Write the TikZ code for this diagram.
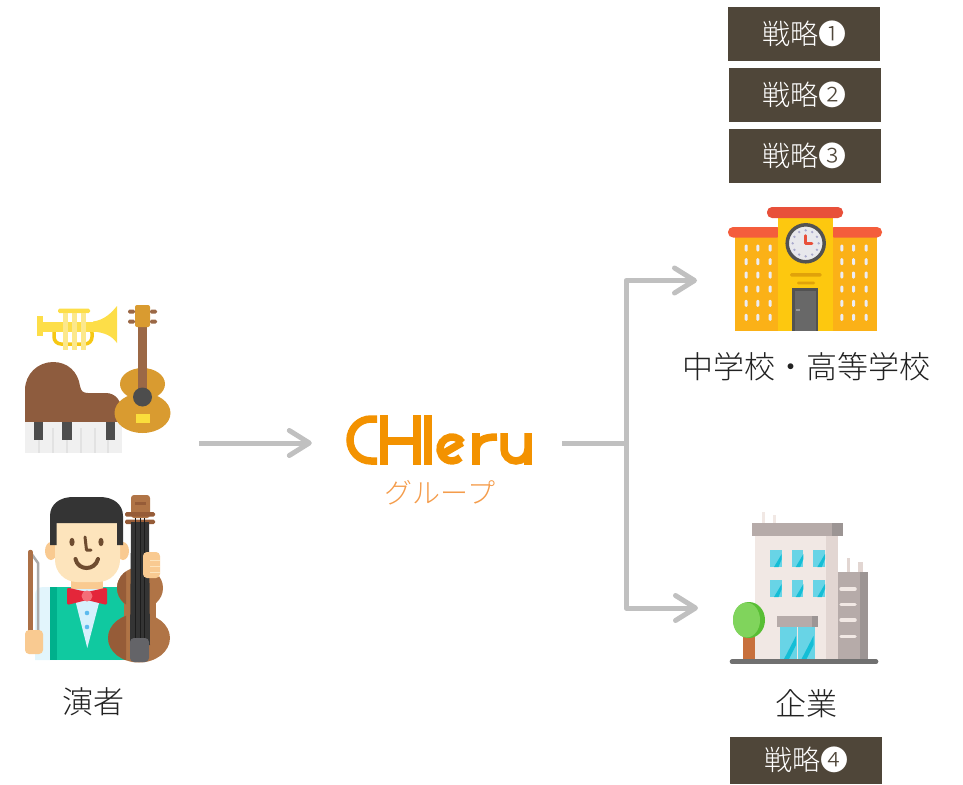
\documentclass[tikz,border=0pt]{standalone}
\usepackage{fontspec}
\setmainfont{Noto Sans CJK JP}[UprightFont = * Light]
\usetikzlibrary{arrows.meta}

% palette
\definecolor{boxbrown}{RGB}{79,70,57}
\definecolor{arrowgray}{RGB}{192,192,192}
\definecolor{logoorange}{RGB}{243,146,0}
\definecolor{kanaorange}{RGB}{244,156,75}
\definecolor{labelink}{RGB}{34,34,34}
% instruments
\definecolor{trumpet}{RGB}{253,222,72}
\definecolor{trumpetdark}{RGB}{246,200,20}
\definecolor{valve}{RGB}{252,232,140}
\definecolor{pianobrown}{RGB}{142,92,62}
\definecolor{keywhite}{RGB}{240,240,240}
\definecolor{keyline}{RGB}{226,226,226}
\definecolor{keyblack}{RGB}{77,77,77}
\definecolor{guitarorange}{RGB}{217,155,48}
\definecolor{guitarneck}{RGB}{155,104,70}
\definecolor{bridgeyellow}{RGB}{250,222,60}
% performer
\definecolor{shirt}{RGB}{226,245,252}
\definecolor{shirtv}{RGB}{214,240,252}
\definecolor{vest}{RGB}{16,201,160}
\definecolor{vestdark}{RGB}{0,176,140}
\definecolor{skin}{RGB}{253,228,188}
\definecolor{skindark}{RGB}{249,202,145}
\definecolor{hair}{RGB}{52,52,52}
\definecolor{featurebrown}{RGB}{110,76,48}
\definecolor{tiered}{RGB}{228,38,58}
\definecolor{tiepink}{RGB}{244,110,120}
\definecolor{button}{RGB}{92,186,238}
\definecolor{bowstick}{RGB}{172,112,70}
\definecolor{bowhair}{RGB}{170,170,170}
\definecolor{violinbrown}{RGB}{176,116,70}
\definecolor{violindark}{RGB}{150,92,56}
\definecolor{fingerboard}{RGB}{52,52,52}
\definecolor{stringcol}{RGB}{28,28,28}
\definecolor{tailgray}{RGB}{100,100,104}
% school
\definecolor{wingyellow}{RGB}{251,177,23}
\definecolor{toweryellow}{RGB}{253,200,15}
\definecolor{roofred}{RGB}{244,93,60}
\definecolor{towerroof}{RGB}{232,80,58}
\definecolor{windowwhite}{RGB}{236,236,242}
\definecolor{barorange}{RGB}{224,162,10}
\definecolor{doorframe}{RGB}{82,82,82}
\definecolor{doorfill}{RGB}{104,104,104}
\definecolor{clockface}{RGB}{232,232,236}
\definecolor{clockdot}{RGB}{170,170,205}
% office
\definecolor{wall}{RGB}{241,232,228}
\definecolor{wallshade}{RGB}{226,214,210}
\definecolor{capgray}{RGB}{182,171,169}
\definecolor{capdark}{RGB}{156,149,148}
\definecolor{glass}{RGB}{104,212,230}
\definecolor{glassdark}{RGB}{20,190,214}
\definecolor{leaf}{RGB}{128,212,92}
\definecolor{leafdark}{RGB}{88,190,52}
\definecolor{trunk}{RGB}{200,112,60}
\definecolor{groundgray}{RGB}{112,112,112}

\begin{document}
\begin{tikzpicture}[x=1pt,y=-1pt,
  stratbox/.style={fill=boxbrown, text=white, inner sep=0pt,
    minimum width=152pt, minimum height=54pt,
    font=\fontsize{28}{28}\selectfont},
  caption/.style={text=labelink, inner sep=0pt, font=\fontsize{31}{31}\selectfont},
  conn/.style={draw=arrowgray, line width=5pt, line join=round},
  tip/.style={-{Straight Barb[length=20pt,width=25pt,round]}},
  logostroke/.style={draw=logoorange, line width=7.5pt},
]
\useasboundingbox (0,0) rectangle (963,784);

% ---------- strategy tags ----------
\node[stratbox] (s1) at (804,34) {戦略❶};
\node[stratbox] (s2) at (804.5,95) {戦略❷};
\node[stratbox] (s3) at (804.5,156) {戦略❸};
\node[stratbox, minimum height=47pt] (s4) at (806,760) {戦略❹};

% ---------- instruments ----------
% grand piano
\fill[pianobrown] (25,422) -- (25,390) .. controls (25,374) and (38,362) .. (53,362)
  .. controls (68,362) and (78,372) .. (80,386) .. controls (81,391) and (83,393) .. (88,393)
  -- (106,393) .. controls (116,393) and (122,402) .. (122,412) -- (122,422) -- cycle;
\fill[keywhite] (25,422) rectangle (122,453);
\foreach \k in {39,53,67,81,95,108} \fill[keyline] (\k-1,428) rectangle (\k+1,453);
\fill[keyblack] (34,422) rectangle (43,440);
\fill[keyblack] (62,422) rectangle (72,440);
\fill[keyblack] (106,422) rectangle (115,440);
% guitar
\fill[guitarorange] (142.5,384) ellipse (22.5 and 16);
\fill[guitarorange] (142.5,413) ellipse (28 and 20);
\fill[guitarneck] (138,318) rectangle (147,398);
\fill[guitarorange, rounded corners=2pt] (135,305) rectangle (150,327);
\foreach \py in {309.5,319.5} {
  \fill[guitarneck, rounded corners=1.5pt] (128,\py) rectangle (135,\py+4);
  \fill[guitarneck, rounded corners=1.5pt] (150,\py) rectangle (157,\py+4);
}
\fill[keyblack] (142.5,397) circle (9.5);
\fill[bridgeyellow] (136,414) rectangle (150,423);
% trumpet
\draw[trumpetdark, line width=3.5pt, rounded corners=7pt] (54,326) rectangle (92,344);
\fill[trumpet] (36.5,316) rectangle (43,336);
\fill[trumpet] (43,321.5) rectangle (96,331.5);
\fill[trumpet] (93,321.5) .. controls (105,320) and (112,312) .. (117,306) -- (117,343)
  .. controls (112,336) and (105,332.5) .. (93,331.5) -- cycle;
\fill[trumpet, rounded corners=1.5pt] (58,308.5) rectangle (90,313);
\fill[valve] (62.5,313) rectangle (67.5,350);
\fill[valve] (72,313) rectangle (77,350);
\fill[valve] (80.5,313) rectangle (85.5,350);

% ---------- performer ----------
\fill[shirt] (35,660) -- (35,595) .. controls (35,590) and (38,587) .. (43,587) -- (125,587) -- (125,660) -- cycle;
\fill[vest] (50,587) rectangle (125,660);
\fill[vestdark] (50,587) rectangle (56.5,660);
\fill[shirtv] (71.7,586.5) -- (103.3,586.5) -- (87.3,648) -- cycle;
\fill[skindark] (71,568) rectangle (103,589);
\fill[skindark] (51,551) ellipse (6 and 9);
\fill[skindark] (123,551) ellipse (6 and 9);
\fill[skin, rounded corners=22pt] (55,510) rectangle (120,582);
\fill[hair] (50,545) -- (50,516) .. controls (50,504) and (60,497) .. (73,497) -- (100,497)
  .. controls (113,497) and (123,504) .. (123,516) -- (123,545) -- (117,545) -- (117,523)
  -- (56.5,523) -- (56.5,545) -- cycle;
\fill[featurebrown] (72,542) ellipse (2.6 and 4.2);
\fill[featurebrown] (101,542) ellipse (2.6 and 4.2);
\draw[featurebrown, line width=3pt, line cap=round, line join=round] (85,537) -- (86.5,550) -- (91,550);
\draw[featurebrown, line width=4pt, line cap=round] (75.5,559) .. controls (78,571) and (95,571) .. (98,559);
\fill[tiered, rounded corners=1.5pt] (67,587.5) -- (87,592) -- (87,600) -- (67,605) -- cycle;
\fill[tiered, rounded corners=1.5pt] (107,587.5) -- (87,592) -- (87,600) -- (107,605) -- cycle;
\fill[tiepink] (87,596) circle (5.5);
\fill[button] (87,613) circle (2.3);
\fill[button] (87,627) circle (2.3);
% bow and left hand
\draw[bowhair, line width=2.5pt] (31,553) -- (38,563) -- (38,636);
\draw[bowstick, line width=4.5pt, line cap=round] (30.5,552) -- (30.5,638);
\fill[skindark, rounded corners=4pt] (25,630) rectangle (43,654);
% violin
\fill[violinbrown] (140,588) ellipse (23 and 21);
\fill[violinbrown] (139,638) ellipse (31 and 24.5);
\fill[violinbrown] (124,598) rectangle (156,622);
\begin{scope}
  \clip (100,560) rectangle (126,665);
  \fill[violindark] (139,638) ellipse (31 and 24.5);
  \fill[violindark] (140,588) ellipse (23 and 21);
\end{scope}
\fill[violinbrown, rounded corners=3pt] (131,495) rectangle (150,518);
\fill[violindark] (135,502) rectangle (146,505);
\fill[violindark, rounded corners=1.5pt] (125,512) rectangle (155,516.5);
\fill[violindark, rounded corners=1.5pt] (125,519.5) rectangle (155,524);
\fill[fingerboard] (131,522) -- (149,522) -- (150,645) -- (130,645) -- cycle;
\foreach \s in {135.5,140,144.5} \draw[stringcol, line width=1pt] (\s,518) -- (\s,642);
\fill[tailgray, rounded corners=4pt] (130,638) rectangle (149,662);
\fill[skindark, rounded corners=4pt] (143,552) rectangle (160,578);
\draw[skin, line width=1pt] (150,560) -- (160,560) (150,566) -- (160,566) (150,572) -- (160,572);

\node[caption] (performerLbl) at (93,702) {演者};

% ---------- logo ----------
\draw[logostroke] (377,419) -- (371,419) arc[start angle=270, end angle=90, radius=21] -- (377,461);
\draw[logostroke] (384,415) -- (384,465) (417,415) -- (417,465) (384,441) -- (417,441);
\draw[logostroke] (428,415) -- (428,465);
\draw[logostroke] (462.2,442.6) arc[start angle=-32, end angle=-315, radius=12];
\draw[logostroke] (462.2,442.6) -- (441.4,454.6);
\draw[logostroke] (476,433) -- (476,465);
\draw[logostroke] (476,452) .. controls (476,441) and (483,437) .. (497,437);
\draw[logostroke] (504,433) -- (504,449) arc[start angle=180, end angle=0, radius=12] -- (528,433);
\draw[logostroke] (528,449) -- (528,465);
\node[text=kanaorange, inner sep=0pt, font=\fontsize{28}{28}\selectfont] (group) at (440,493) {グループ};
\node[minimum width=250pt, minimum height=60pt, inner sep=0pt] (logo) at (437,443) {};

% ---------- school ----------
\fill[wingyellow] (735,236) rectangle (778,331);
\fill[wingyellow] (833,236) rectangle (877,331);
\fill[roofred, rounded corners=5pt] (728,227) rectangle (782,237.5);
\fill[roofred, rounded corners=5pt] (829,227) rectangle (882,237.5);
\fill[toweryellow] (778,216) rectangle (833,331);
\fill[towerroof, rounded corners=5pt] (767,207) rectangle (843,218);
\foreach \wy in {248,261.7,275,289,303.3,317.3} {
  \foreach \wx in {746.2,757.8,770.2,841.8,853.5,866.2}
    \fill[windowwhite, rounded corners=1.2pt] (\wx-1.5,\wy-3.5) rectangle (\wx+1.5,\wy+3.5);
}
\fill[clockface] (805.7,243.3) circle (18.5);
\draw[doorframe, line width=3.5pt] (805.7,243.3) circle (18.5);
\foreach \a in {0,30,...,330} \fill[clockdot] (805.7,243.3) ++(\a:13) circle (1.3);
\draw[towerroof, line width=2.5pt, line cap=round, line join=round] (805.7,235.5) -- (805.7,243.3) -- (812,243.3);
\fill[barorange, rounded corners=1.5pt] (790,273) rectangle (821.7,276.7);
\fill[barorange, rounded corners=1.2pt] (797,281.7) rectangle (815,284.3);
\fill[doorframe] (791.7,288.3) rectangle (818.3,331);
\fill[doorfill] (794.5,291) rectangle (815.5,331);
\fill[doorframe!60] (796,309) rectangle (799.5,311);
\node[caption] (schoolLbl) at (806,367) {中学校・高等学校};

% ---------- office ----------
\fill[wall] (761.7,512) rectangle (765,525);
\fill[wall] (772.7,515) rectangle (776,525);
\fill[wallshade] (846.7,558) rectangle (850,572);
\fill[wallshade] (858.3,561.7) rectangle (862.7,572);
\fill[capgray] (838.3,571.7) rectangle (868.3,661);
\fill[capdark] (860,571.7) rectangle (868.3,661);
\foreach \ly in {589,604.7,620,636.7}
  \draw[wall, line width=3.5pt, line cap=round] (841,\ly) -- (855,\ly);
\fill[wall] (755,536) rectangle (838.3,661);
\fill[wallshade] (826,536) rectangle (838.3,661);
\fill[capgray] (751.7,523.3) rectangle (843.3,536);
\fill[capdark] (832,523.3) rectangle (843.3,536);
\foreach \gy in {550,580} {
  \foreach \gx in {770,791.7,813.3} {
    \fill[glass] (\gx,\gy) rectangle (\gx+11.7,\gy+17);
    \fill[glassdark] (\gx+4,\gy+17) -- (\gx+11.7,\gy+4) -- (\gx+11.7,\gy+9) -- (\gx+8.5,\gy+17) -- cycle;
  }
}
\fill[capgray] (776.7,616) rectangle (818.3,626.7);
\fill[capdark] (812,616) rectangle (818.3,626.7);
\fill[glass] (780,626.7) rectangle (815,661);
\fill[glassdark] (783,661) -- (796,636) -- (796,645) -- (788,661) -- cycle;
\fill[glassdark] (800.5,661) -- (813.5,636) -- (813.5,645) -- (805.5,661) -- cycle;
\draw[wall, line width=1.5pt] (797.5,626.7) -- (797.5,661);
\fill[trunk] (743.3,633) rectangle (755,661);
\fill[leafdark] (749,620) ellipse (16 and 18);
\fill[leaf] (746.5,620) ellipse (13.5 and 17.5);
\draw[groundgray, line width=4.7pt, line cap=round] (732,661.7) -- (876,661.7);
\node[caption] (officeLbl) at (806,704) {企業};

% ---------- connectors ----------
\coordinate (src) at (199,443);
\coordinate (jn) at (626,443);
\coordinate (schoolIn) at (697,280.5);
\coordinate (officeIn) at (698,608);
\draw[conn, tip] (src) -- (logo.west);
\draw[conn] (logo.east) -- (jn);
\draw[conn, tip] (jn) |- (schoolIn);
\draw[conn, tip] (jn) |- (officeIn);
\end{tikzpicture}
\end{document}
